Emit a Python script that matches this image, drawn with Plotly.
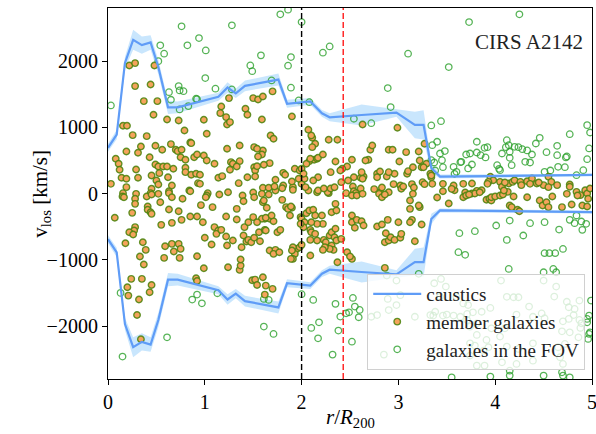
import plotly.graph_objects as go

# ---------------- data ----------------
caustic_r = [0.0, 0.09, 0.175, 0.26, 0.35, 0.44, 0.52, 0.62, 0.72, 1.14, 1.235, 1.32, 1.415,
             1.76, 1.85, 2.09, 2.21, 2.29, 2.62, 2.98, 3.17, 3.26, 3.34, 3.43, 5.0]
caustic_amp = [690, 890, 1970, 2320, 2240, 2280, 1910, 1300, 1300, 1460, 1600, 1510, 1625,
               1720, 1355, 1390, 1210, 1150, 1185, 1220, 1035, 1035, 385, 255, 280]
caustic_err = [60, 70, 90, 150, 130, 110, 110, 100, 90, 60, 80, 70, 80,
               90, 60, 50, 50, 60, 160, 60, 200, 220, 80, 30, 20]

vline_r = [2.0, 2.43]
vline_colors = ["black", "#ff1a1a"]

members_a = [
    (0.22, 1933), (0.28, 1968), (0.48, 1933), (0.28, 1621), (0.44, 1646), (0.37, 1394), (0.51, 1394), (0.47, 1189), (0.61, 1118), (0.73, 1103),
    (0.155, 1022), (0.196, 1022), (0.79, 952), (0.255, 881), (0.40, 866), (0.99, 1113), (1.02, 902), (0.85, 770), (0.65, 745), (1.17, 1314),
    (1.16, 1213), (1.22, 1153), (1.23, 1042), (1.26, 1077), (1.25, 1440), (1.42, 1279), (1.44, 1189), (1.50, 1440), (0.34, 710), (0.31, 614),
    (0.19, 634), (0.49, 720), (0.56, 660), (0.70, 660), (0.72, 640), (0.76, 660), (0.75, 548), (0.80, 509), (0.89, 548), (0.92, 589),
    (0.99, 574), (1.02, 498), (0.08, 524), (0.11, 448), (0.12, 358), (0.29, 362), (0.43, 548), (0.49, 438), (0.52, 408), (0.57, 408),
    (0.61, 408), (0.675, 373), (0.80, 388), (0.80, 322), (0.86, 282), (0.91, 297), (0.95, 282), (1.10, 448), (1.23, 675), (1.36, 725),
    (1.51, 700), (1.27, 473), (1.29, 448), (1.36, 488), (1.26, 358), (1.33, 408), (1.51, 397), (1.52, 347), (1.52, 257), (1.44, 246),
    (0.14, 237), (0.19, 222), (0.31, 237), (0.45, 272), (0.50, 196), (0.52, 136), (0.53, 307), (0.62, 246), (0.93, 156), (0.95, 146),
    (1.14, 237), (1.18, 262), (1.35, 156), (0.03, 146), (0.19, 96), (0.45, 71), (0.44, 5), (0.63, 35), (0.84, 45), (1.03, 5),
    (1.24, 20), (1.50, 15), (0.155, 5), (1.55, 1420), (1.60, 1465), (1.70, 1541), (1.59, 1118), (1.68, 876), (1.71, 826), (1.60, 650),
    (1.59, 589), (1.54, 675), (1.67, 458), (1.61, 433), (1.54, 412), (0.66, 121), (0.86, 760), (0.15, -45), (1.73, 45), (1.81, 121),
    (1.91, 96), (2.00, 146), (2.07, 45), (2.16, 20), (2.28, 5),
]

members_b = [
    (0.165, -56), (0.29, -5), (0.28, -80), (0.40, -45), (0.45, -15), (0.52, -5), (0.63, 5), (0.66, -56), (0.77, -80), (0.54, -131),
    (0.41, -196), (0.41, -246), (0.44, -282), (0.45, -307), (0.25, -292), (0.07, -367), (0.63, -242), (0.73, -267), (0.96, -176), (1.02, -30),
    (1.01, -56), (1.08, -206), (1.15, -15), (1.39, -30), (1.40, -116), (1.51, -56), (1.33, -232), (1.22, -347), (1.50, -357), (0.85, -347),
    (0.92, -347), (0.66, -443), (0.76, -398), (0.98, -433), (0.55, -473), (0.28, -508), (0.27, -559), (0.22, -584), (0.26, -619), (0.18, -750),
    (0.36, -735), (0.39, -851), (0.33, -952), (0.37, -1072), (0.59, -796), (0.66, -760), (0.73, -760), (0.75, -836), (0.68, -876), (0.58, -972),
    (0.74, -972), (0.92, -947), (1.00, -669), (1.07, -770), (1.10, -508), (1.14, -559), (1.12, -609), (1.17, -549), (1.22, -650), (1.29, -710),
    (1.23, -785), (0.99, -1128), (1.24, -1113), (1.36, -1153), (1.37, -1088), (1.37, -997), (1.41, -508), (1.40, -634), (1.43, -725), (1.45, -700),
    (1.38, -811), (1.48, -735), (1.51, -669), (1.45, -433), (1.33, -393), (1.49, -1310), (1.52, -1300), (1.54, -1380), (1.60, -1264), (1.63, -1390),
    (1.70, -1440), (1.62, -1526), (0.24, -1289), (0.35, -1289), (0.20, -1415), (0.21, -1541), (0.45, -1380), (0.43, -1491), (0.32, -1601), (0.30, -1833),
    (0.34, -2200), (0.91, -1279), (0.92, -1320), (0.28, -156), (0.85, 35), (1.60, -131), (1.62, -382), (1.80, -96), (1.90, -216),
]

members_c = [
    (1.90, 1163), (2.07, 962), (2.11, 841), (2.14, 750), (2.28, 811), (2.37, 811), (2.63, 1042), (2.99, 992), (2.71, 660), (2.73, 725),
    (2.90, 660), (2.94, 660), (3.08, 624), (3.21, 634), (3.01, 483), (3.27, 750), (1.55, 559), (2.08, 488), (2.13, 509), (2.16, 524),
    (2.17, 539), (2.22, 589), (2.35, 483), (2.52, 509), (2.47, 408), (2.42, 373), (2.30, 322), (1.93, 373), (1.98, 347), (1.81, 312),
    (1.83, 282), (1.73, 207), (1.90, 181), (1.91, 55), (1.97, 222), (2.03, 222), (2.04, 96), (2.17, 246), (2.27, 20), (2.17, 45),
    (2.41, 171), (2.54, 246), (2.61, 237), (2.64, 257), (2.63, 222), (2.69, 509), (2.78, 297), (2.81, 332), (2.78, 246), (2.88, 257),
    (2.96, 297), (3.02, 121), (3.03, 71), (3.09, 297), (3.10, 337), (3.15, 397), (3.24, 397), (3.29, 448), (3.33, 297), (3.34, 246),
    (2.53, 106), (2.54, 35), (2.81, 20), (2.90, 20), (1.60, 86), (1.66, 86), (1.72, 106), (1.80, 80), (2.00, 373), (2.02, 297),
    (2.05, 448), (2.09, 524), (2.11, 700), (2.10, 876), (2.40, 347), (2.48, 196), (2.62, 322), (2.66, 498), (2.90, 322), (3.22, 498),
    (3.26, 397), (2.12, 196), (2.23, 76), (2.30, 76), (2.34, 95), (2.46, 5), (2.56, 5), (2.61, 76), (2.75, 66), (2.83, 91),
    (2.95, 141), (3.05, 106), (3.14, 141), (3.16, 91), (3.25, 171), (3.27, 141),
]

members_d = [
    (1.59, -5), (1.66, -15), (1.61, -106), (1.64, -216), (1.59, -382), (1.54, -433), (1.56, -584), (1.62, -549), (1.57, -720), (1.67, -861),
    (1.73, -851), (1.71, -911), (1.77, -886), (1.75, -584), (1.78, -549), (1.67, -382), (1.71, -418), (1.84, -206), (1.86, -232), (1.89, -196),
    (1.88, -332), (1.99, -357), (2.05, -297), (2.08, -257), (2.12, -246), (2.14, -332), (2.21, -332), (2.22, -458), (2.16, -458), (2.10, -433),
    (2.09, -549), (2.10, -584), (2.14, -609), (2.16, -710), (2.09, -700), (2.23, -700), (2.25, -735), (2.29, -634), (2.31, -584), (2.35, -533),
    (2.34, -660), (2.36, -710), (2.31, -785), (2.33, -851), (2.29, -836), (2.24, -811), (2.22, -851), (2.00, -382), (2.03, -433), (2.02, -509),
    (1.99, -458), (1.95, -836), (1.93, -911), (1.91, -987), (1.89, -987), (1.98, -811), (2.00, -775), (2.37, -1037), (2.47, -886), (2.52, -987),
    (2.41, -685), (2.35, -156), (2.31, -282), (2.36, -257), (2.52, -30), (2.57, -30), (2.63, -5), (2.52, -332), (2.52, -433), (2.57, -398),
    (2.62, -418), (2.64, -483), (2.55, -518), (2.78, -498), (2.83, -468), (2.86, -735), (2.90, -710), (2.92, -660), (2.96, -700), (3.02, -669),
    (2.87, -599), (2.89, -398), (3.00, -433), (2.80, -5), (2.83, -56), (3.12, -232), (3.14, -398), (3.22, -206), (3.24, -468), (3.12, -106),
    (2.09, -936), (2.50, -951), (2.86, -1123), (3.17, -720), (2.86, -15), (3.15, -5), (3.21, -181), (3.03, -609), (3.12, -433), (1.63, -559),
    (1.91, -811), (1.90, -861), (1.63, -367), (1.69, -332),
]

members_e = [
    (3.34, 272), (3.35, 146), (3.46, 35), (3.58, 50), (3.69, 15), (3.76, 151), (3.76, 0), (3.81, 40), (3.86, 50), (3.79, 0),
    (3.95, 252), (3.98, 201), (3.93, 176), (4.05, 176), (4.07, 101), (4.13, 25), (4.14, 151), (4.18, 176), (4.20, 201), (4.26, 176),
    (4.27, 126), (4.33, 186), (4.38, 227), (4.43, 151), (4.50, 126), (4.55, 252), (4.58, 176), (4.64, 126), (4.77, 136), (4.77, 101),
    (4.84, 25), (4.88, -25), (4.93, 50), (4.95, 0), (4.98, 75), (3.67, -56), (3.70, -30), (3.73, -15), (3.84, 20), (3.91, -95),
    (3.94, -80), (3.96, -106), (3.96, -56), (4.00, -45), (4.05, -30), (4.08, -15), (4.15, -181), (4.17, -206), (4.23, -246), (4.25, -267),
    (4.33, -56), (4.46, -106), (4.49, -181), (4.53, -131), (4.59, -45), (4.69, -206), (4.79, -166), (4.85, -30), (4.90, -181), (4.95, -196),
    (4.96, -80), (3.46, 146), (3.57, 121), (3.55, 70), (3.67, 146), (3.92, 146), (4.10, 166), (4.36, 146), (4.45, 166), (4.55, 96),
    (4.74, -5), (4.09, 45), (4.19, -45), (4.55, -206), (3.40, -60), (3.52, -150),
]

fov_upper = [
    (0.03, 1329), (0.63, 1530), (0.65, 1415), (0.73, 1621), (0.74, 1556), (0.78, 1545), (0.83, 1319), (0.91, 1430), (1.005, 1742), (1.11, 1582),
    (1.28, 1571), (1.47, 1933), (1.49, 1847), (0.74, 1269), (0.76, 2523), (1.28, 2538), (0.94, 2346), (0.82, 2236), (0.54, 2236), (0.58, 2110),
    (0.52, 1998), (1.01, 2160), (1.58, 2085), (1.78, 2704), (1.86, 2775), (2.00, 2588), (1.89, 2059), (1.86, 1929), (1.89, 1597), (1.69, 1707),
    (0.92, 1424), (1.97, 1405), (2.08, 1379), (2.22, 2125), (2.29, 2220), (3.10, 2110), (3.73, 2588), (4.25, 2704), (3.52, 1908), (2.89, 1591),
    (2.92, 1304), (2.54, 1128), (2.72, 1062), (3.34, 1027), (3.44, 1092),
]

fov_right = [
    (3.40, 781), (3.35, 730), (3.43, 604), (3.48, 640), (3.45, 503), (3.57, 403), (3.60, 327), (3.65, 478), (3.70, 589), (3.74, 604),
    (3.76, 438), (3.72, 378), (3.81, 781), (3.81, 619), (3.85, 579), (3.89, 690), (3.90, 544), (4.02, 428), (4.05, 352), (4.07, 604),
    (4.12, 805), (4.14, 730), (4.15, 630), (4.15, 539), (4.17, 428), (4.20, 705), (4.28, 669), (4.31, 478), (4.36, 468), (4.38, 589),
    (4.42, 755), (4.46, 841), (4.51, 327), (4.57, 347), (4.64, 720), (4.64, 579), (4.65, 403), (4.73, 544), (4.77, 896), (4.84, 277),
    (4.91, 352), (4.95, 1032), (4.95, 518), (4.98, 921), (4.97, 680), (3.46, 397), (3.38, 347), (3.58, 297), (3.64, 473), (3.92, 699),
    (4.04, 373), (4.11, 699), (4.24, 699), (4.33, 650), (4.53, 624), (4.72, 397), (4.74, 559), (3.34, 503), (3.37, 468),
]

fov_lower = [
    (0.13, -1500), (0.15, -2462), (0.61, -2171), (0.87, -1601), (0.92, -1526), (0.97, -1657), (1.13, -1506), (1.61, -2009), (1.71, -2120), (1.61, -1591),
    (1.66, -1606), (2.00, -1520), (2.12, -1606), (2.35, -1666), (2.40, -1858), (2.46, -1808), (2.49, -1793), (2.53, -1576), (2.55, -1707), (2.60, -1757),
    (2.59, -1868), (2.10, -2029), (2.18, -1944), (2.17, -2186), (2.38, -2069), (2.52, -2236), (2.32, -2432), (2.85, -2432), (2.89, -1591), (2.98, -1314),
    (2.88, -1239), (3.21, -1213), (3.37, -1355), (3.44, -1289), (3.49, -1405), (3.63, -599), (3.79, -569), (3.62, -886), (3.69, -926), (4.01, -483),
    (4.12, -700), (4.15, -408), (4.36, -448), (4.51, -433), (4.14, -1138), (4.06, -1314), (4.19, -1566), (4.24, -1566), (4.50, -1189), (4.60, -1138),
    (4.63, -1189), (4.50, -1314), (4.63, -1405), (4.56, -901), (4.51, -901), (4.62, -901), (4.70, -836), (4.77, -398), (4.82, -448), (4.89, -423),
    (4.90, -549), (4.94, -458), (4.66, -544), (4.29, -634), (4.84, -332), (4.99, -1616), (4.35, -1707), (4.61, -1556), (3.95, -1727), (4.76, -1717),
    (4.82, -1742), (4.87, -1616), (3.36, -1843), (3.46, -1843), (3.50, -1828), (3.57, -1843), (3.71, -1818), (3.77, -1793), (4.22, -1828), (4.51, -1883),
    (4.70, -1929), (4.76, -1893), (4.87, -1908), (4.89, -1959), (4.95, -1893), (4.69, -2080), (4.77, -2095), (4.86, -2171), (4.88, -2029), (4.98, -2095),
    (4.96, -2195), (3.74, -2261), (3.79, -2296), (3.88, -2372), (3.93, -2321), (4.12, -2311), (4.24, -2346), (4.39, -2261), (4.65, -2321), (4.72, -2271),
    (3.74, -2447), (3.81, -2598), (3.89, -2598), (4.07, -2548), (4.22, -2573), (4.39, -2523), (4.67, -2472), (4.70, -2573), (3.55, -2774), (3.95, -2764),
    (4.15, -2674), (4.15, -2749), (4.50, -2749), (4.69, -2699), (4.70, -2749), (4.77, -2774), (4.97, -1843), (4.95, -1944), (4.97, -2120), (2.72, -1860),
    (2.78, -1835), (2.90, -1760), (2.98, -1684), (3.02, -1534), (3.17, -1860), (3.33, -1835), (3.38, -1785), (3.43, -1559), (3.60, -1559), (3.67, -1659),
    (3.72, -1684), (3.64, -1860), (3.71, -1910), (3.74, -2010), (3.81, -1960), (3.86, -1785), (3.81, -2135), (3.91, -2210), (3.96, -2035), (4.05, -2160),
    (4.10, -2035), (4.12, -1559), (4.39, -1860), (4.48, -1810), (4.74, -1634), (4.81, -1835),
]

# ---------------- figure ----------------
FONT = "Liberation Serif"
LINE_BLUE = "#5f9cf7"
BAND_BLUE = "rgba(135,200,250,0.45)"

members = members_a + members_b + members_c + members_d + members_e
fov = fov_upper + fov_right + fov_lower
mem_r = [p[0] for p in members]
mem_v = [p[1] for p in members]
fov_r = [p[0] for p in fov]
fov_v = [p[1] for p in fov]

hi = [a + e for a, e in zip(caustic_amp, caustic_err)]
lo = [a - e for a, e in zip(caustic_amp, caustic_err)]

fig = go.Figure()

# uncertainty bands
fig.add_trace(go.Scatter(x=caustic_r + caustic_r[::-1], y=hi + lo[::-1], fill="toself",
                         fillcolor=BAND_BLUE, line=dict(width=0), mode="lines",
                         showlegend=False, hoverinfo="skip"))
fig.add_trace(go.Scatter(x=caustic_r + caustic_r[::-1], y=[-v for v in hi] + [-v for v in lo[::-1]],
                         fill="toself", fillcolor=BAND_BLUE, line=dict(width=0), mode="lines",
                         showlegend=False, hoverinfo="skip"))

# galaxies in the FOV
fig.add_trace(go.Scatter(x=fov_r, y=fov_v, mode="markers", name="galaxies in the FOV",
                         legendrank=3,
                         marker=dict(symbol="circle-open", size=6.5, color="rgba(44,160,44,0.8)",
                                     line=dict(width=1.3))))
# members
fig.add_trace(go.Scatter(x=mem_r, y=mem_v, mode="markers", name="member galaxies",
                         legendrank=2,
                         marker=dict(symbol="circle", size=6.5, color="#f5a35c",
                                     line=dict(width=1.4, color="rgba(70,130,10,0.85)"))))
# caustic lines
fig.add_trace(go.Scatter(x=caustic_r, y=caustic_amp, mode="lines", name="caustics", legendrank=1,
                         line=dict(color=LINE_BLUE, width=2.2)))
fig.add_trace(go.Scatter(x=caustic_r, y=[-a for a in caustic_amp], mode="lines", showlegend=False,
                         line=dict(color=LINE_BLUE, width=2.2)))

for r, c in zip(vline_r, vline_colors):
    fig.add_vline(x=r, line=dict(color=c, width=1.4, dash="6px,3px"), layer="above")

axis_common = dict(showline=True, linecolor="black", linewidth=1.2, mirror=True,
                   ticks="outside", ticklen=5, tickwidth=1, tickcolor="black",
                   showgrid=False, zeroline=False, automargin=False,
                   ticklabeloverflow="allow",
                   tickfont=dict(family=FONT, size=20, color="black"))

fig.update_layout(
    width=596, height=434,
    margin=dict(l=108, r=4, t=8, b=55, autoexpand=False),
    plot_bgcolor="white", paper_bgcolor="white",
    font=dict(family=FONT, color="black"),
    xaxis=dict(range=[0, 5], tickvals=[0, 1, 2, 3, 4, 5], **axis_common),
    yaxis=dict(range=[-2800, 2800], tickvals=[-2000, -1000, 0, 1000, 2000], **axis_common),
    legend=dict(x=0.986, y=0.024, xanchor="right", yanchor="bottom", itemwidth=48,
                bgcolor="rgba(255,255,255,0.8)", bordercolor="#d0d0d0", borderwidth=1,
                font=dict(family=FONT, size=19, color="#222")),
    annotations=[
        dict(text="CIRS A2142", xref="paper", yref="paper", x=0.985, y=0.908,
             xanchor="right", yanchor="middle", showarrow=False,
             font=dict(family=FONT, size=21, color="#222")),
        dict(text="<i>r</i>/<i>R</i><sub>200</sub>", xref="paper", yref="paper", x=0.5, y=-0.105,
             xanchor="center", yanchor="middle", showarrow=False,
             font=dict(family=FONT, size=21, color="black")),
        dict(text="v<sub>los</sub> [km/s]", xref="paper", yref="paper", x=-0.14, y=0.5,
             xanchor="center", yanchor="middle", showarrow=False, textangle=-90,
             font=dict(family=FONT, size=21, color="black")),
    ],
)

fig.write_html("out.html", config={"displayModeBar": False},
               post_script="document.body.style.margin='0px';document.body.style.overflow='hidden';")
